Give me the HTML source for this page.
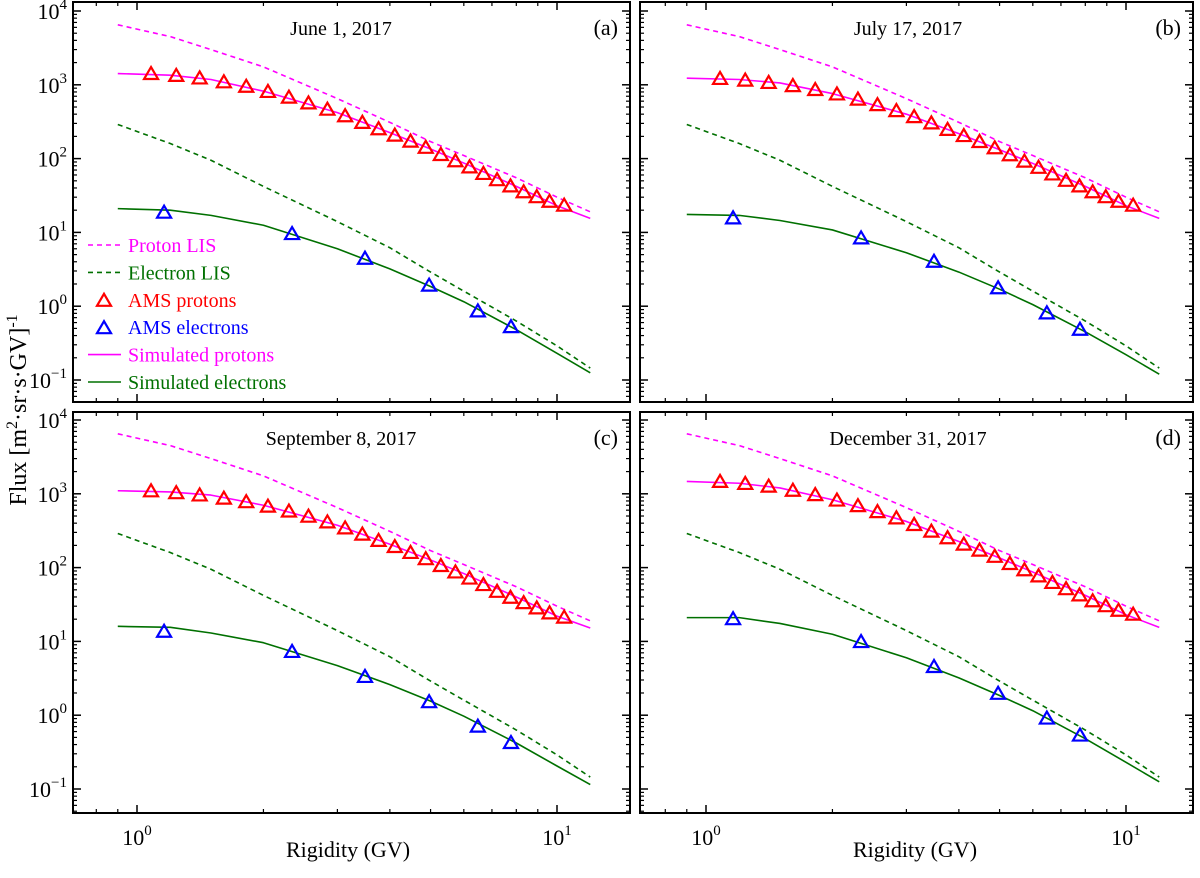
<!DOCTYPE html>
<html><head><meta charset="utf-8"><style>
body{margin:0;background:#fff;}
svg{display:block;font-family:"Liberation Serif",serif;}
</style></head><body>
<svg id="chart" width="1200" height="878" xmlns="http://www.w3.org/2000/svg">
<text x="348" y="857" font-size="22" text-anchor="middle">Rigidity (GV)</text>
<text x="915" y="857" font-size="22" text-anchor="middle">Rigidity (GV)</text>
<text transform="translate(26,410) rotate(-90)" font-size="24" text-anchor="middle">Flux [m<tspan font-size="16" dy="-9">2</tspan><tspan dy="9">·sr·s·GV]</tspan><tspan font-size="16" dy="-9">-1</tspan></text>
</svg>
<script>
const NS="http://www.w3.org/2000/svg";
const svg=document.getElementById('chart');
const protonR=[1.08,1.24,1.41,1.61,1.82,2.05,2.30,2.56,2.84,3.13,3.44,3.76,4.11,4.48,4.87,5.29,5.73,6.19,6.68,7.20,7.75,8.33,8.95,9.60,10.4];
const electronR=[1.16,2.34,3.49,4.96,6.48,7.77];
const curveR=[0.9,1.2,1.5,2,3,4,5,6,8,10,12];
const protonLIS=[6500,4500,3000,1750,650,310,170,110,55,30,19];
const electronLIS=[290,160,95,42,14,6.2,2.9,1.6,0.63,0.29,0.145];
const titles=["June 1, 2017","July 17, 2017","September 8, 2017","December 31, 2017"];
const tags=["(a)","(b)","(c)","(d)"];
const protonsA=[1400,1320,1220,1080,940,800,670,560,460,375,305,250,205,170,140,112,92,76,62,51,42,35,30,26,23];
const protonsB=[1200,1140,1060,960,850,740,630,530,440,365,300,245,202,168,138,111,91,75,61,50,42,35,30,26,23];
const protonsC=[1080,1020,950,860,770,670,575,490,410,340,280,230,190,158,130,105,86,71,58,47,39,33,28,24,21];
const protonsD=[1450,1360,1250,1100,960,810,680,565,465,378,307,250,205,170,140,112,92,76,62,51,42,35,30,26,23];
const electronsA=[18.5,9.5,4.4,1.9,0.85,0.52];
const electronsB=[15.5,8.3,4.0,1.75,0.8,0.48];
const electronsC=[13.5,7.2,3.3,1.5,0.7,0.42];
const electronsD=[20,9.8,4.5,1.95,0.9,0.53];
const simPA=[1420,1350,1180,820,420,225,135,87,42,23,15.5];
const simPB=[1230,1180,1060,760,400,218,132,86,42,23,15.5];
const simPC=[1100,1060,960,700,375,207,127,83,40,22,15.2];
const simPD=[1470,1390,1200,830,422,226,135,87,42,23,15.5];
const simEA=[21,20,17,12.5,6,3.2,1.85,1.15,0.48,0.23,0.125];
const simEB=[17.5,17,14.5,10.8,5.3,2.9,1.7,1.05,0.45,0.22,0.12];
const simEC=[16,15.5,13,9.6,4.7,2.6,1.55,0.97,0.42,0.205,0.115];
const simED=[21,21,17.5,12.5,6,3.2,1.85,1.15,0.48,0.23,0.125];
const P=[protonsA,protonsB,protonsC,protonsD];
const E=[electronsA,electronsB,electronsC,electronsD];
const SP=[simPA,simPB,simPC,simPD];
const SE=[simEA,simEB,simEC,simED];
const yTicks=[4,3,2,1,0,-1];

const panels=[
 {l:73,r:630,t:2,b:402,x0:137,y4:11},
 {l:640,r:1193,t:2,b:402,x0:706,y4:11},
 {l:73,r:630,t:412,b:813,x0:137,y4:420},
 {l:640,r:1193,t:412,b:813,x0:706,y4:420}];
const DX=420,DY=73.8;
function mk(tag,attrs,parent){const e=document.createElementNS(NS,tag);for(const k in attrs)e.setAttribute(k,attrs[k]);(parent||svg).appendChild(e);return e;}
function tri(g,x,y,col){return mk('polygon',{points:`${x},${y-7} ${x-7},${y+5} ${x+7},${y+5}`,fill:'none',stroke:col,'stroke-width':2.2},g);}

panels.forEach((p,i)=>{
 const sx=R=>p.x0+DX*Math.log10(R);
 const sy=v=>p.y4+DY*(4-Math.log10(v));
 const g=mk('g',{});
 
 
 const fr=mk('rect',{x:p.l,y:p.t,width:p.r-p.l,height:p.b-p.t,fill:'none',stroke:'#000','stroke-width':2},g);
 
 
 yTicks.forEach(k=>{
  const y=sy(Math.pow(10,k));
  mk('line',{x1:p.l,x2:p.l+8,y1:y,y2:y,stroke:'#000','stroke-width':1.5},g);
  mk('line',{x1:p.r,x2:p.r-8,y1:y,y2:y,stroke:'#000','stroke-width':1.5},g);
  if(i%2===0){
   const t=mk('text',{x:p.l-6,y:y+8,'font-size':22,'text-anchor':'end'},g);
   
   
   t.innerHTML=`10<tspan font-size="15" dy="-10">${k<0?'\u2212'+(-k):k}</tspan>`;
  }
  for(let m=2;m<=9;m++){const v=m*Math.pow(10,k-1);const yy=sy(v);
   if(yy>p.t+1&&yy<p.b-1){mk('line',{x1:p.l,x2:p.l+4,y1:yy,y2:yy,stroke:'#000','stroke-width':1.2},g);
   mk('line',{x1:p.r,x2:p.r-4,y1:yy,y2:yy,stroke:'#000','stroke-width':1.2},g);}}
 });
 [1,10].forEach(v=>{const x=sx(v);
  mk('line',{x1:x,x2:x,y1:p.b,y2:p.b-8,stroke:'#000','stroke-width':1.5},g);
  mk('line',{x1:x,x2:x,y1:p.t,y2:p.t+8,stroke:'#000','stroke-width':1.5},g);
  if(i>=2){const t=mk('text',{x:x,y:p.b+32,'font-size':22,'text-anchor':'middle'},g);
   
   
   t.innerHTML=`10<tspan font-size="15" dy="-10">${v===1?0:1}</tspan>`;}
 });
 [0.8,0.9,2,3,4,5,6,7,8,9].forEach(v=>{const x=sx(v);if(x>p.l&&x<p.r){
  mk('line',{x1:x,x2:x,y1:p.b,y2:p.b-4,stroke:'#000','stroke-width':1.2},g);
  mk('line',{x1:x,x2:x,y1:p.t,y2:p.t+4,stroke:'#000','stroke-width':1.2},g);}});
 const line=(arr,col,dash,name)=>{const e=mk('polyline',{points:curveR.map((r,j)=>sx(r)+','+sy(arr[j])).join(' '),fill:'none',stroke:col,'stroke-width':1.6,'stroke-dasharray':dash,'stroke-linejoin':'round'},g);
  
  };
 line(protonLIS,'#ff00ff','5,4','proton-lis-line');
 line(electronLIS,'#007000','5,4','electron-lis-line');
 line(SP[i],'#ff00ff','none','simulated-protons-line');
 line(SE[i],'#007000','none','simulated-electrons-line');
 protonR.forEach((r,j)=>{const e=tri(g,sx(r),sy(P[i][j]),'#ff0000');
  
  });
 electronR.forEach((r,j)=>{const e=tri(g,sx(r),sy(E[i][j]),'#0000ff');
  
  });
 const tt=mk('text',{x:p.l+268,y:p.t+33,'font-size':20,'text-anchor':'middle'},g);
 
 
 tt.textContent=titles[i];
 const tg=mk('text',{x:p.r-12,y:p.t+33,'font-size':22,'text-anchor':'end'},g);
 
 
 tg.textContent=tags[i];
});
const leg=mk('g',{});


const items=[["Proton LIS","#ff00ff","dash"],["Electron LIS","#007000","dash"],["AMS protons","#ff0000","tri"],["AMS electrons","#0000ff","tri"],["Simulated protons","#ff00ff","line"],["Simulated electrons","#007000","line"]];
items.forEach((it,j)=>{const y=245+j*27.4;
 const e=mk('g',{},leg);
 
 
 if(it[2]==='tri')tri(e,104,y+1,it[1]);
 else mk('line',{x1:88,x2:121,y1:y,y2:y,stroke:it[1],'stroke-width':1.6,'stroke-dasharray':it[2]==='dash'?'5,4':'none'},e);
 const t=mk('text',{x:128,y:y+7,'font-size':20,fill:it[1]},e);t.textContent=it[0];});
</script>
</body></html>
